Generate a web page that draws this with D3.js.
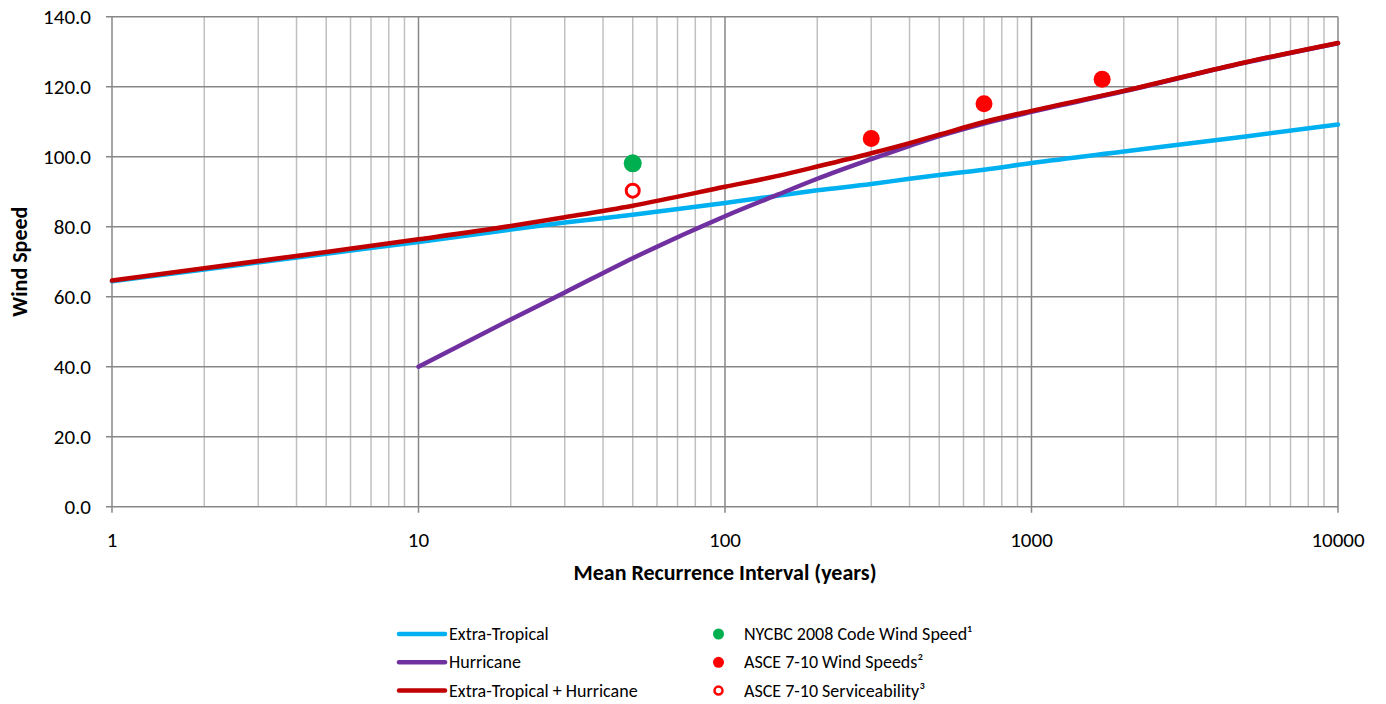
<!DOCTYPE html>
<meta charset="utf-8" />
<html lang="en">
  <head>
    <script src="https://d3js.org/d3.v7.min.js"></script>
    <style>
      body { margin: 0; background: #fff; }
      svg text { font-family: Carlito, Lato, "Open Sans", sans-serif; fill: #000; }
      .grid-major { stroke: #878787; stroke-width: 1.5px; }
      .grid-minor { stroke: #c0c0c0; stroke-width: 1.5px; }
      .tick-lbl { font-size: 21px; }
      .axis-title { font-size: 22px; font-weight: bold; }
      .legend text { font-size: 18px; }
    </style>
  </head>
  <body>
    <svg width="1386" height="704"></svg>
    <script>
      // values
      var mri = [1, 2, 5, 10, 20, 30, 50, 100, 150, 200, 300, 400, 500, 700, 1000, 2000, 5000, 10000];
      var extraTropical = [64.4, 67.8, 72.3, 75.6, 79.2, 81.2, 83.4, 86.8, 88.9, 90.4, 92.2, 93.7, 94.8, 96.3, 98.2, 101.5, 105.8, 109.2];
      var combined = [64.6, 68.1, 72.8, 76.4, 80.2, 82.7, 86.0, 91.4, 94.6, 97.2, 101.0, 103.9, 106.3, 109.9, 113.1, 118.8, 127.0, 132.5];
      var hurricaneMri = [10, 20, 30, 50, 100, 150, 200, 300, 400, 500, 700, 1000, 2000, 5000, 10000];
      var hurricane = [40.0, 53.5, 61.2, 71.0, 83.0, 89.3, 93.7, 99.3, 103.1, 105.9, 109.5, 112.8, 118.7, 126.9, 132.4];

      var nycbcMri = [50], nycbcSpeed = [98.1];
      var asceMri = [300, 700, 1700], asceSpeed = [105.2, 115.1, 122.1];
      var serviceMri = [50], serviceSpeed = [90.3];

      var yTicks = [0, 20, 40, 60, 80, 100, 120, 140];
      var xTicks = [1, 10, 100, 1000, 10000];

      var svg = d3.select("svg");
      var plotLeft = 112, plotRight = 1338, plotTop = 16.7, plotBottom = 506.7;

      var x = d3.scaleLog().domain([1, 10000]).range([plotLeft, plotRight]);
      var y = d3.scaleLinear().domain([0, 140]).range([plotBottom, plotTop]);

      // minor vertical gridlines
      var minor = [];
      for (var d = 1; d < 10000; d *= 10) {
        for (var k = 2; k <= 9; k++) minor.push(d * k);
      }
      svg.append("g").selectAll("line").data(minor).enter().append("line")
        .attr("class", "grid-minor")
        .attr("x1", d => x(d)).attr("x2", d => x(d))
        .attr("y1", plotTop).attr("y2", plotBottom);

      // major gridlines
      svg.append("g").selectAll("line").data(xTicks).enter().append("line")
        .attr("class", "grid-major")
        .attr("x1", d => x(d)).attr("x2", d => x(d))
        .attr("y1", plotTop).attr("y2", plotBottom + 6);
      svg.append("g").selectAll("line").data(yTicks).enter().append("line")
        .attr("class", "grid-major")
        .attr("x1", plotLeft - 6).attr("x2", plotRight)
        .attr("y1", d => y(d)).attr("y2", d => y(d));

      // tick labels
      svg.append("g").selectAll("text").data(yTicks).enter().append("text")
        .attr("class", "tick-lbl")
        .attr("x", 91).attr("y", d => y(d) + 7)
        .attr("text-anchor", "end")
        .text(d => d.toFixed(1));
      svg.append("g").selectAll("text").data(xTicks).enter().append("text")
        .attr("class", "tick-lbl")
        .attr("x", d => x(d)).attr("y", 547)
        .attr("text-anchor", "middle")
        .text(d => d);

      svg.append("text").attr("class", "axis-title")
        .attr("x", 725).attr("y", 580)
        .attr("text-anchor", "middle")
        .text("Mean Recurrence Interval (years)");
      svg.append("text").attr("class", "axis-title")
        .attr("transform", "translate(27," + (plotTop + plotBottom) / 2 + ") rotate(-90)")
        .attr("text-anchor", "middle")
        .text("Wind Speed");

      var line = d3.line().curve(d3.curveMonotoneX)
        .x(d => x(d[0])).y(d => y(d[1]));

      var series = [
        { name: "Extra-Tropical", color: "#00b0f0", xs: mri, ys: extraTropical },
        { name: "Hurricane", color: "#7030a0", xs: hurricaneMri, ys: hurricane },
        { name: "Extra-Tropical + Hurricane", color: "#c00000", xs: mri, ys: combined }
      ];

      series.forEach(function(s) {
        svg.append("path")
          .datum(s.xs.map((v, i) => [v, s.ys[i]]))
          .attr("fill", "none")
          .attr("stroke", s.color)
          .attr("stroke-width", 4.5)
          .attr("stroke-linecap", "round")
          .attr("d", line);
      });

      // point markers
      svg.append("g").selectAll("circle").data(nycbcMri).enter().append("circle")
        .attr("cx", d => x(d)).attr("cy", (d, i) => y(nycbcSpeed[i]))
        .attr("r", 9).attr("fill", "#00b050");
      svg.append("g").selectAll("circle").data(asceMri).enter().append("circle")
        .attr("cx", d => x(d)).attr("cy", (d, i) => y(asceSpeed[i]))
        .attr("r", 8.5).attr("fill", "#ff0000");
      svg.append("g").selectAll("circle").data(serviceMri).enter().append("circle")
        .attr("cx", d => x(d)).attr("cy", (d, i) => y(serviceSpeed[i]))
        .attr("r", 6.5).attr("fill", "#fff")
        .attr("stroke", "#ff0000").attr("stroke-width", 3);

      // legend
      var legend = svg.append("g").attr("class", "legend");
      series.forEach(function(s, i) {
        var ly = 634 + i * 28.3;
        legend.append("line")
          .attr("x1", 399).attr("x2", 445).attr("y1", ly).attr("y2", ly)
          .attr("stroke", s.color).attr("stroke-width", 4.5)
          .attr("stroke-linecap", "round");
        legend.append("text").attr("x", 449).attr("y", ly + 6).text(s.name);
      });

      var markers = [
        { name: "NYCBC 2008 Code Wind Speed\u00b9", fill: "#00b050", stroke: "none" },
        { name: "ASCE 7-10 Wind Speeds\u00b2", fill: "#ff0000", stroke: "none" },
        { name: "ASCE 7-10 Serviceability\u00b3", fill: "#fff", stroke: "#ff0000" }
      ];
      markers.forEach(function(m, i) {
        var ly = 634 + i * 28.3;
        legend.append("circle")
          .attr("cx", 718.5).attr("cy", ly)
          .attr("r", m.stroke === "none" ? 5.5 : 4)
          .attr("fill", m.fill)
          .attr("stroke", m.stroke).attr("stroke-width", 2.5);
        legend.append("text").attr("x", 744).attr("y", ly + 6).text(m.name);
      });
    </script>
  </body>
</html>
